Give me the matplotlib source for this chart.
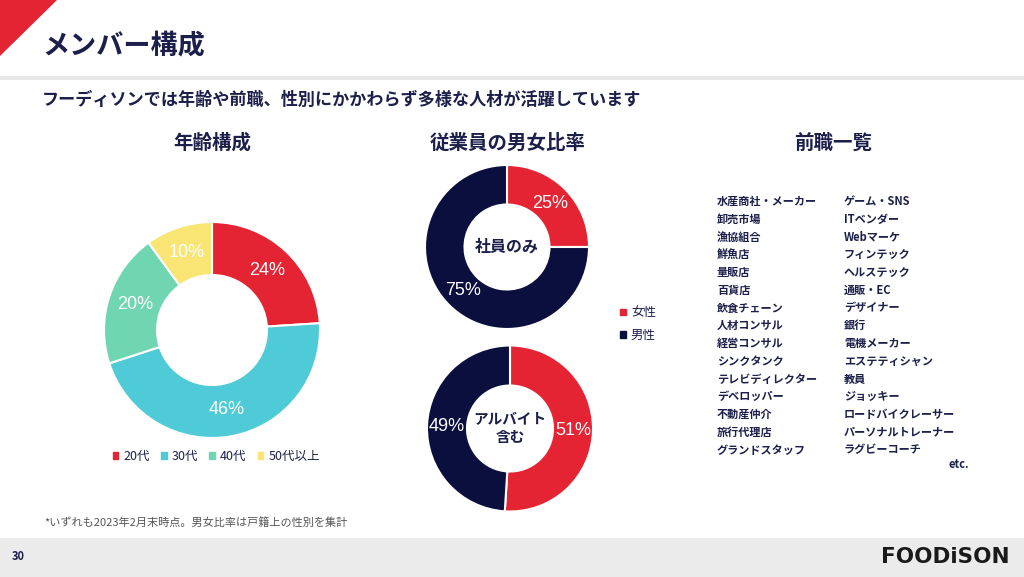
import matplotlib
matplotlib.use("Agg")
import matplotlib.pyplot as plt
from matplotlib.patches import Polygon, Rectangle, Patch

plt.rcParams['font.family'] = ['Noto Sans CJK JP', 'DejaVu Sans']

W, H = 1024, 577
NAVY_TXT = "#1b1f4a"
NAVY = "#0b0f3d"
RED = "#e52433"

# data
age_labels = ["20代", "30代", "40代", "50代以上"]
age_values = [24, 46, 20, 10]
age_colors = [RED, "#4ecbd7", "#6fd6b1", "#f8e574"]

gender_labels = ["女性", "男性"]
gender_colors = [RED, NAVY]
staff_only = [25, 75]
with_parttime = [51, 49]

prev_jobs_1 = ["水産商社・メーカー", "卸売市場", "漁協組合", "鮮魚店", "量販店", "百貨店",
               "飲食チェーン", "人材コンサル", "経営コンサル", "シンクタンク",
               "テレビディレクター", "デベロッパー", "不動産仲介", "旅行代理店", "グランドスタッフ"]
prev_jobs_2 = ["ゲーム・SNS", "ITベンダー", "Webマーケ", "フィンテック", "ヘルステック", "通販・EC",
               "デザイナー", "銀行", "電機メーカー", "エステティシャン", "教員", "ジョッキー",
               "ロードバイクレーサー", "パーソナルトレーナー", "ラグビーコーチ"]

fig = plt.figure(figsize=(W / 100, H / 100), dpi=100)
bg = fig.add_axes([0, 0, 1, 1])
bg.set_xlim(0, W); bg.set_ylim(H, 0); bg.axis("off")

# header / footer decoration
bg.add_patch(Polygon([(0, 0), (57, 0), (0, 56)], closed=True, color=RED, lw=0))
bg.add_patch(Rectangle((0, 76), W, 4, color="#e7e7e7", lw=0))
bg.add_patch(Rectangle((0, 538), W, 40, color="#ebebeb", lw=0))

bg.text(42, 45, "メンバー構成", fontsize=19.5, fontweight="bold", color=NAVY_TXT, va="center")
bg.text(42, 100, "フーディソンでは年齢や前職、性別にかかわらず多様な人材が活躍しています",
        fontsize=12.3, fontweight="bold", color=NAVY_TXT, va="center")
for x, t in [(212, "年齢構成"), (508, "従業員の男女比率"), (833, "前職一覧")]:
    bg.text(x, 143, t, fontsize=14, fontweight="bold", color=NAVY_TXT, ha="center", va="center")

bg.text(44, 522, "*いずれも2023年2月末時点。男女比率は戸籍上の性別を集計",
        fontsize=8, color="#555555", va="center")
bg.text(12, 557, "30", fontsize=8, fontweight="bold", color=NAVY_TXT, va="center")
bg.text(1010, 557, "FOODiSON", fontsize=15.5, fontweight="bold", color="#1a1a1a",
        family="DejaVu Sans", ha="right", va="center")

# previous jobs list
row0, step = 201.5, 17.75
for i, (a, b) in enumerate(zip(prev_jobs_1, prev_jobs_2)):
    y = row0 + i * step
    bg.text(717, y, a, fontsize=8, fontweight="bold", color=NAVY_TXT, va="center")
    bg.text(844, y, b, fontsize=8, fontweight="bold", color=NAVY_TXT, va="center")
bg.text(969, 464, "etc.", fontsize=8, fontweight="bold", color=NAVY_TXT, ha="right", va="center")


def donut(cx, cy, r, r_in, values, colors, pct_dist=0.75):
    ax = fig.add_axes([(cx - r) / W, 1 - (cy + r) / H, 2 * r / W, 2 * r / H])
    ax.pie(values, colors=colors, startangle=90, counterclock=False,
           autopct=lambda p: f"{p:.0f}%", pctdistance=pct_dist,
           wedgeprops=dict(width=1 - r_in / r, edgecolor="white", linewidth=1.5),
           textprops=dict(color="white", fontsize=13, family="Liberation Sans"))
    ax.set_xlim(-1, 1); ax.set_ylim(-1, 1)
    return ax


ax1 = donut(212, 330, 108, 55, age_values, age_colors)
ax1.legend([Patch(color=c) for c in age_colors], age_labels, loc="center",
           bbox_to_anchor=(0.52, -0.085), ncol=4, frameon=False, fontsize=9,
           handlelength=0.45, handleheight=0.45, handletextpad=0.4, columnspacing=0.9,
           labelcolor=NAVY_TXT)

ax2 = donut(507, 247, 82, 42.5, staff_only, gender_colors)
ax2.text(0, 0, "社員のみ", fontsize=11.5, fontweight="bold", color=NAVY_TXT, ha="center", va="center")

ax3 = donut(510, 428.5, 83, 43, with_parttime, gender_colors, pct_dist=0.76)
ax3.text(0, 0, "アルバイト\n含む", fontsize=10.5, fontweight="bold", color=NAVY_TXT,
         ha="center", va="center", linespacing=1.15)

bg.legend([Patch(color=c) for c in gender_colors], gender_labels, loc="center left",
          bbox_to_anchor=(609, 324), bbox_transform=bg.transData, frameon=False, fontsize=9,
          handlelength=0.45, handleheight=0.45, handletextpad=0.4, labelspacing=0.75,
          labelcolor=NAVY_TXT)

fig.savefig("out.png", dpi=100)
